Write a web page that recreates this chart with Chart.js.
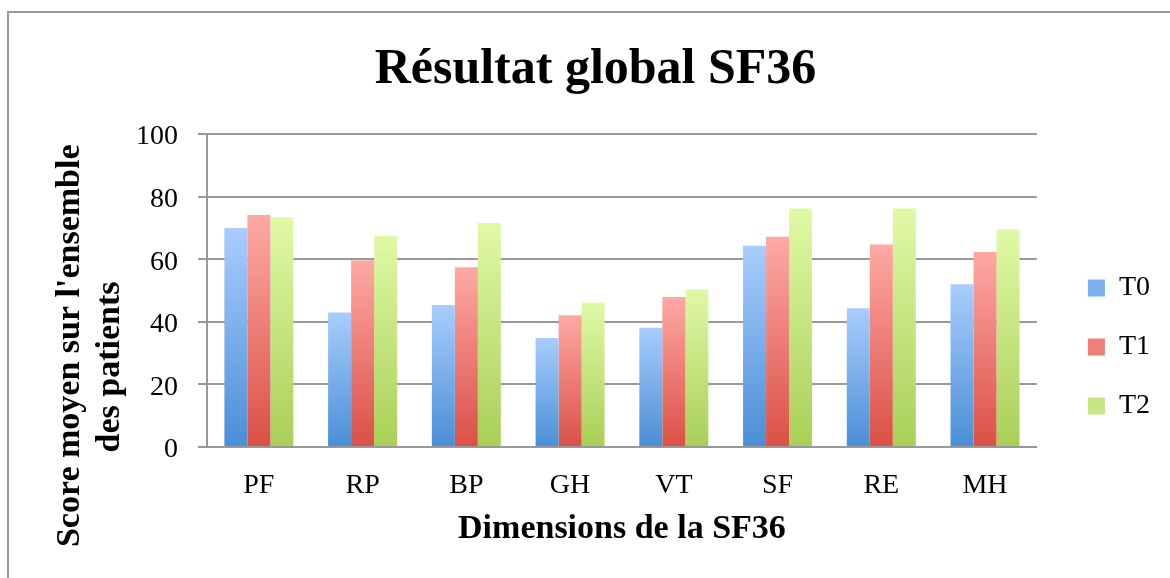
<!DOCTYPE html>
<html>
<head>
<meta charset="utf-8">
<script src="https://cdn.jsdelivr.net/npm/chart.js@4/dist/chart.umd.min.js"></script>
<style>
html,body{margin:0;padding:0;background:#fff;}
#wrap{width:1170px;height:578px;position:relative;}
</style>
</head>
<body>
<div id="wrap"><canvas id="c" width="1170" height="578"></canvas></div>
<script>
const categories = ['PF','RP','BP','GH','VT','SF','RE','MH'];
const seriesNames = ['T0','T1','T2'];
const t0 = [70.0, 43.0, 45.4, 34.8, 38.1, 64.3, 44.3, 52.0];
const t1 = [74.1, 59.7, 57.4, 42.1, 47.9, 67.2, 64.7, 62.3];
const t2 = [73.4, 67.5, 71.6, 46.2, 50.3, 76.2, 76.2, 69.6];
const yTicks = [0, 20, 40, 60, 80, 100];
const titleText = 'Résultat global SF36';
const yTitle = ["Score moyen sur l'ensemble" + ' '.repeat(13), 'des patients' + ' '.repeat(18)];
const xTitle = 'Dimensions de la SF36';

const FONT = "'Liberation Serif', 'Times New Roman', serif";
const topColors = ['#a9cdfd', '#fea9a4', '#e0f9a6'];
const botColors = ['#4a8ed6', '#da5046', '#a9cf57'];
const legendColors = ['#7db0ee', '#ef7f77', '#c6e585'];

function gradFill(i) {
  return (ctx) => {
    const chart = ctx.chart;
    const area = chart.chartArea;
    if (!area || ctx.type !== 'data') return legendColors[i];
    const v = ctx.raw;
    const ys = chart.scales.y;
    const yTop = ys.getPixelForValue(v);
    const yBot = ys.getPixelForValue(0);
    const g = chart.ctx.createLinearGradient(0, yTop, 0, yBot);
    g.addColorStop(0, topColors[i]);
    g.addColorStop(1, botColors[i]);
    return g;
  };
}

const frame = {
  id: 'frame',
  beforeDraw(chart) {
    const c = chart.ctx;
    c.save();
    c.fillStyle = '#fff';
    c.fillRect(0, 0, chart.width, chart.height);
    c.strokeStyle = '#999';
    c.lineWidth = 2;
    c.beginPath();
    c.moveTo(8, 578);
    c.lineTo(8, 12);
    c.lineTo(1170, 12);
    c.stroke();
    c.restore();
  }
};

const data = {
  labels: categories,
  datasets: [t0, t1, t2].map((vals, i) => ({
    label: seriesNames[i],
    data: vals,
    backgroundColor: gradFill(i),
    borderWidth: 0,
    categoryPercentage: 0.665,
    barPercentage: 1.0
  }))
};

new Chart(document.getElementById('c'), {
  type: 'bar',
  data,
  plugins: [frame],
  options: {
    responsive: false,
    animation: false,
    events: [],
    layout: { padding: { left: 31, right: 10, top: 0, bottom: 0 } },
    plugins: {
      title: {
        display: true,
        text: titleText,
        color: '#000',
        font: { family: FONT, size: 50, weight: 'bold', lineHeight: 1.2 },
        padding: { top: 40, bottom: 34 }
      },
      legend: {
        display: true,
        position: 'right',
        align: 'start',
        title: {
          display: true,
          text: '',
          font: { family: FONT, size: 10, lineHeight: 1 },
          padding: { top: 233, bottom: 0 }
        },
        labels: {
          color: '#000',
          font: { family: FONT, size: 28 },
          boxWidth: 17,
          boxHeight: 17,
          padding: 31,
          generateLabels(chart) {
            return chart.data.datasets.map((d, i) => ({
              text: d.label,
              fillStyle: legendColors[i],
              strokeStyle: legendColors[i],
              lineWidth: 0,
              hidden: false,
              datasetIndex: i,
              fontColor: '#000'
            }));
          }
        }
      },
      tooltip: { enabled: false }
    },
    scales: {
      x: {
        grid: { display: false, drawTicks: false },
        border: { display: true, color: '#999', width: 2 },
        ticks: { color: '#000', font: { family: FONT, size: 28 }, padding: 22 },
        title: {
          display: true,
          text: xTitle,
          color: '#000',
          font: { family: FONT, size: 34, weight: 'bold', lineHeight: 1.2 },
          padding: { top: 0, bottom: 28 }
        },
        afterFit(s) { s.height = 578 - 447; }
      },
      y: {
        min: 0,
        max: 100,
        afterBuildTicks(s) { s.ticks = yTicks.map(v => ({ value: v })); },
        grid: { color: '#999', lineWidth: 2, tickLength: 9, drawTicks: true },
        border: { display: true, color: '#999', width: 2 },
        ticks: { color: '#000', font: { family: FONT, size: 28 }, padding: 20, labelOffset: 3 },
        title: {
          display: true,
          text: yTitle,
          color: '#000',
          font: { family: FONT, size: 34, weight: 'bold', lineHeight: 1.176 },
          padding: { top: 19.5, bottom: 0 }
        },
        afterFit(s) { s.width = 207 - 31; }
      },
      yR: {
        position: 'right',
        min: 0,
        max: 100,
        display: true,
        grid: { display: false, drawTicks: false },
        border: { display: false },
        ticks: { display: false },
        afterFit(s) { s.width = 20; }
      }
    }
  }
});
</script>
</body>
</html>
